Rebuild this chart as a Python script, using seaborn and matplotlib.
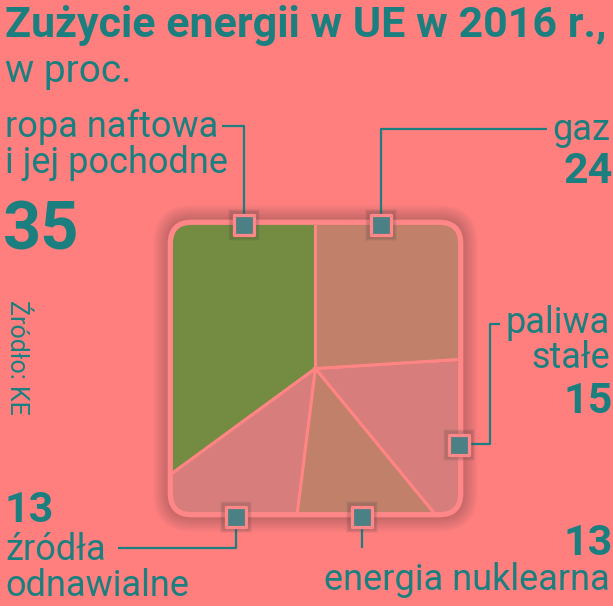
import numpy as np
import matplotlib
matplotlib.use("Agg")
import matplotlib.pyplot as plt
from matplotlib.patches import FancyBboxPatch
import seaborn as sns

# ---- data ----
title = "Zużycie energii w UE w 2016 r.,"
subtitle = "w proc."
source = "Źródło: KE"
categories = ["ropa naftowa\ni jej pochodne", "źródła\nodnawialne", "energia nuklearna", "paliwa\nstałe", "gaz"]
values = [35, 13, 13, 15, 24]
colors = ["#738c41", "#d77d7b", "#c0806a", "#d77d7b", "#c0806a"]

BG = "#ff7f7f"
TEAL = "#1b7f80"
MARK = "#4b8084"

sns.set_theme(style="white")
plt.rcParams['font.family'] = ['Roboto', 'DejaVu Sans']

W, H = 613, 606
fig = plt.figure(figsize=(W / 100, H / 100), dpi=100, facecolor=BG)

# ---- pie clipped to a rounded square ----
x0, x1, y0, y1 = 172, 459, 224, 513
pax = fig.add_axes([x0 / W, 1 - y1 / H, (x1 - x0) / W, (y1 - y0) / H])
pax.set_facecolor('none')
wedges, _ = pax.pie(values, colors=colors, startangle=90, counterclock=True,
                    radius=1.7, wedgeprops=dict(edgecolor='#ff8585', linewidth=2.2))
pax.set_xlim(-1, 1)
pax.set_ylim(-1, 1)
pax.set_aspect('auto')
pax.axis('off')

rs = 0.14
clip = FancyBboxPatch((-1, -1), 2, 2, boxstyle=f"round,pad=0,rounding_size={rs}",
                      transform=pax.transData, facecolor='none', edgecolor='none')
pax.add_patch(clip)
for w in wedges:
    w.set_clip_on(True)
    w.set_clip_path(clip)
    w.set_zorder(2)

# shadow
for pad in np.linspace(0.02, 0.13, 9):
    pax.add_patch(FancyBboxPatch((-1, -1), 2, 2,
                                 boxstyle=f"round,pad={pad},rounding_size={rs + pad}",
                                 facecolor='#4a3a3a', alpha=0.045, edgecolor='none',
                                 zorder=0, clip_on=False))
# border
pax.add_patch(FancyBboxPatch((-1.012, -1.012), 2.024, 2.024,
                             boxstyle=f"round,pad=0,rounding_size={rs + 0.01}",
                             facecolor='none', edgecolor='#ff8787', linewidth=3.8,
                             zorder=5, clip_on=False))

# ---- overlay: texts, leader lines, markers ----
oax = fig.add_axes([0, 0, 1, 1])
oax.set_xlim(0, W)
oax.set_ylim(H, 0)
oax.axis('off')
oax.set_zorder(5)
oax.set_facecolor('none')

leaders = [
    [(244, 215), (244, 126), (222, 126)],
    [(236, 528), (236, 548), (118, 548)],
    [(362, 528), (362, 548)],
    [(470, 444), (490, 444), (490, 324), (500, 324)],
    [(381, 215), (381, 129), (547, 129)],
]
markers = [(244, 225), (236, 517), (362, 517), (459, 445), (381, 225)]

for pts in leaders:
    xs, ys = zip(*pts)
    oax.plot(xs, ys, color=TEAL, lw=1.6, solid_capstyle='butt', zorder=1)

mx, my = zip(*markers)
for k, (s, a) in enumerate([(560, 0.06), (470, 0.08), (390, 0.1)]):
    oax.scatter(mx, my, s=s, marker='s', color='#3a3a3a', alpha=a, lw=0, zorder=2)
oax.scatter(mx, my, s=205, marker='s', color=MARK, edgecolor='#ff8787', linewidths=2.3, zorder=3)

# title
t = oax.text(5, 37, title, fontsize=26, fontweight='bold', color=TEAL, ha='left', va='baseline')
fig.canvas.draw()
bb = t.get_window_extent()
t.set_fontsize(26 * 603 / bb.width)
oax.text(5, 82, subtitle, fontsize=28, color=TEAL, ha='left', va='baseline')

lab = dict(fontsize=26, color=TEAL, va='baseline')
num = dict(fontweight='bold', color=TEAL, va='baseline')

# ropa naftowa
oax.text(5, 137, "ropa naftowa", ha='left', **lab)
oax.text(5, 173, "i jej pochodne", ha='left', **lab)
oax.text(3, 250, f"{values[0]}", ha='left', fontsize=48, **num)
# gaz
oax.text(610, 140, "gaz", ha='right', **lab)
oax.text(613, 183, f"{values[4]}", ha='right', fontsize=31, **num)
# paliwa stałe
oax.text(610, 333, "paliwa", ha='right', **lab)
oax.text(610, 368, "stałe", ha='right', **lab)
oax.text(613, 413, f"{values[3]}", ha='right', fontsize=31, **num)
# odnawialne
oax.text(4, 522, f"{values[1]}", ha='left', fontsize=31, **num)
oax.text(5, 560, "źródła", ha='left', **lab)
oax.text(5, 596, "odnawialne", ha='left', **lab)
# nuklearna
oax.text(613, 555, f"{values[2]}", ha='right', fontsize=31, **num)
oax.text(610, 590, "energia nuklearna", ha='right', **lab)

# source
oax.text(5, 300, source, rotation=-90, fontsize=18, color=TEAL, ha='left', va='top')

fig.savefig("out.png", dpi=100, facecolor=BG)
